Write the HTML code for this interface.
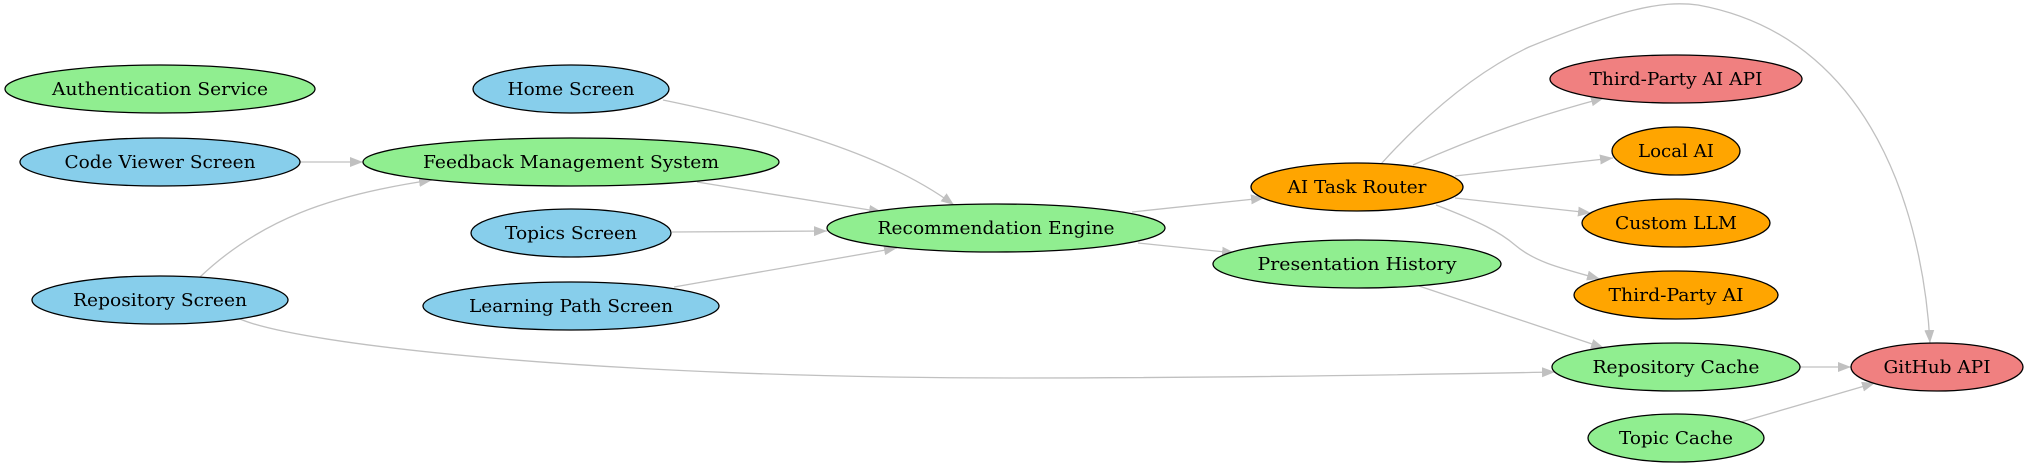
<!DOCTYPE html>
<html><head><meta charset="utf-8"><style>html,body{margin:0;padding:0;background:#fff}svg{display:block}</style></head>
<body>
<svg width="2025" height="469" viewBox="0 0 2025 469" xmlns="http://www.w3.org/2000/svg">
<defs>
<marker id="a" markerUnits="userSpaceOnUse" markerWidth="14" markerHeight="12" refX="13" refY="5" orient="auto">
<path d="M0,0 L13,5 L0,10 Z" fill="#c0c0c0"/>
</marker>
</defs>
<g fill="none" stroke="#c0c0c0" stroke-width="1.3" marker-end="url(#a)">
<path d="M300,162 L363,162"/>
<path d="M200,277 C260,220 330,195 432,180"/>
<path d="M663,100 C760,120 880,150 954,205"/>
<path d="M697,182 L882,212"/>
<path d="M672,232 L827,231"/>
<path d="M674,287 L897,248"/>
<path d="M240,319 C300,345 600,378 1012,378 C1250,378 1450,374 1555,372"/>
<path d="M1132,212 L1264,198"/>
<path d="M1138,243 L1235,253"/>
<path d="M1413,165 C1480,135 1540,115 1604,98"/>
<path d="M1455,176 L1613,158"/>
<path d="M1455,198 L1591,213"/>
<path d="M1436,205 C1480,222 1500,232 1515,245 C1535,262 1560,268 1600,279"/>
<path d="M1381,164 C1430,110 1480,70 1529,47 C1620,10 1660,0 1698,5 C1890,40 1925,250 1930,343"/>
<path d="M1419,286 L1604,348"/>
<path d="M1800,367 L1851,367"/>
<path d="M1741,422 L1875,383"/>
</g>
<g stroke="#000" stroke-width="1.3">
<ellipse cx="160" cy="89" rx="155" ry="24" fill="#90ee90"/>
<ellipse cx="571" cy="89" rx="98" ry="24" fill="#87ceeb"/>
<ellipse cx="160" cy="162" rx="140" ry="24" fill="#87ceeb"/>
<ellipse cx="571" cy="162" rx="208" ry="24" fill="#90ee90"/>
<ellipse cx="571" cy="233" rx="100" ry="24" fill="#87ceeb"/>
<ellipse cx="996" cy="228" rx="169" ry="24" fill="#90ee90"/>
<ellipse cx="160" cy="300" rx="128" ry="24" fill="#87ceeb"/>
<ellipse cx="571" cy="306" rx="148" ry="24" fill="#87ceeb"/>
<ellipse cx="1357" cy="187" rx="106" ry="24" fill="#ffa500"/>
<ellipse cx="1357" cy="264" rx="144" ry="24" fill="#90ee90"/>
<ellipse cx="1676" cy="79" rx="126" ry="24" fill="#f08080"/>
<ellipse cx="1676" cy="151" rx="64" ry="24" fill="#ffa500"/>
<ellipse cx="1676" cy="223" rx="94" ry="24" fill="#ffa500"/>
<ellipse cx="1676" cy="295" rx="102" ry="24" fill="#ffa500"/>
<ellipse cx="1676" cy="367" rx="124" ry="24" fill="#90ee90"/>
<ellipse cx="1937" cy="367" rx="86" ry="24" fill="#f08080"/>
<ellipse cx="1676" cy="438" rx="88" ry="24" fill="#90ee90"/>
</g>
<g font-family="DejaVu Serif, Liberation Serif, serif" font-size="18" text-anchor="middle" fill="#000" lengthAdjust="spacingAndGlyphs">
<text x="160" y="95" textLength="216" lengthAdjust="spacingAndGlyphs">Authentication Service</text>
<text x="571" y="95" textLength="127" lengthAdjust="spacingAndGlyphs">Home Screen</text>
<text x="160" y="168" textLength="191" lengthAdjust="spacingAndGlyphs">Code Viewer Screen</text>
<text x="571" y="168" textLength="296" lengthAdjust="spacingAndGlyphs">Feedback Management System</text>
<text x="571" y="239" textLength="132" lengthAdjust="spacingAndGlyphs">Topics Screen</text>
<text x="996" y="234" textLength="237" lengthAdjust="spacingAndGlyphs">Recommendation Engine</text>
<text x="160" y="306" textLength="174" lengthAdjust="spacingAndGlyphs">Repository Screen</text>
<text x="571" y="312" textLength="204" lengthAdjust="spacingAndGlyphs">Learning Path Screen</text>
<text x="1357" y="193" textLength="139" lengthAdjust="spacingAndGlyphs">AI Task Router</text>
<text x="1357" y="270" textLength="199" lengthAdjust="spacingAndGlyphs">Presentation History</text>
<text x="1676" y="85" textLength="173" lengthAdjust="spacingAndGlyphs">Third-Party AI API</text>
<text x="1676" y="157" textLength="76" lengthAdjust="spacingAndGlyphs">Local AI</text>
<text x="1676" y="229" textLength="122" lengthAdjust="spacingAndGlyphs">Custom LLM</text>
<text x="1676" y="301" textLength="135" lengthAdjust="spacingAndGlyphs">Third-Party AI</text>
<text x="1676" y="373" textLength="167" lengthAdjust="spacingAndGlyphs">Repository Cache</text>
<text x="1937" y="373" textLength="107" lengthAdjust="spacingAndGlyphs">GitHub API</text>
<text x="1676" y="444" textLength="114" lengthAdjust="spacingAndGlyphs">Topic Cache</text>
</g>
</svg>
</body></html>
